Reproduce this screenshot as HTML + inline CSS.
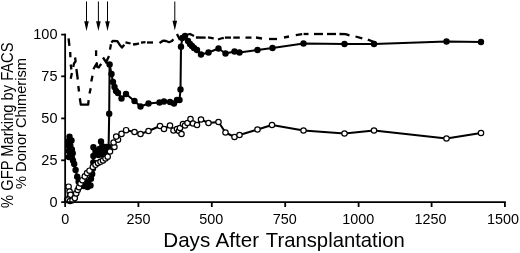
<!DOCTYPE html>
<html><head><meta charset="utf-8"><title>Chart</title>
<style>html,body{margin:0;padding:0;background:#fff}svg{display:block}</style></head>
<body>
<svg width="520" height="253" viewBox="0 0 520 253">
<rect width="520" height="253" fill="#fff"/>
<path d="M86.5 1.5V23" stroke="#000" stroke-width="1"/>
<path d="M84.2 21.2L88.8 21.2L86.5 31Z" fill="#000"/>
<path d="M98.4 1.5V23" stroke="#000" stroke-width="1"/>
<path d="M96.10000000000001 21.2L100.7 21.2L98.4 31Z" fill="#000"/>
<path d="M107.5 1.5V23" stroke="#000" stroke-width="1"/>
<path d="M105.2 21.2L109.8 21.2L107.5 31Z" fill="#000"/>
<path d="M174.8 1.5V22.6" stroke="#000" stroke-width="1"/>
<path d="M172.5 20.8L177.10000000000002 20.8L174.8 30.6Z" fill="#000"/>
<g stroke="#000" stroke-width="2.3" fill="none" stroke-linejoin="round">
<polyline points="68.6,38.3 69.4,45.8"/>
<polyline points="70.2,52 70.4,57.3"/>
<polyline points="75.1,57.5 75.6,61.3 74,63.5 73.2,67"/>
<polyline points="70.7,64.5 71.4,69.5"/>
<polyline points="71.9,73 70.7,78.7"/>
<polyline points="76.4,69 77.8,79.5"/>
<polyline points="78.3,86 79,91.5"/>
<polyline points="79.8,98.2 80.8,104.6 88.2,104.6 88.6,100.2"/>
<polyline points="89.5,93.6 90.7,88.2"/>
<polyline points="91.3,81.5 92.5,75.8"/>
<polyline points="93.4,69.3 95.2,66 96.8,63.2 97.2,66.8 98.8,67.4 100,65.5 101.2,63.8"/>
<polyline points="96.1,50.3 96.1,56"/>
<polyline points="103,57.5 107,63.5"/>
<polyline points="109,56 106,62.5"/>
<polyline points="110,49.6 111,44.3"/>
<polyline points="111.3,42.5 112.9,40.9 117.3,41.1 119.8,44.9 122,47.5 124.3,44.7"/>
<polyline points="125.5,42.4 130.6,43.5"/>
<polyline points="133,44.5 137,44 139,43.3"/>
<polyline points="141,42.6 145.5,42.2"/>
<polyline points="147,42.5 153,42.5"/>
<polyline points="159.5,43 163,40.7 166,41 169,42.2 172,41 173.3,39.3"/>
<polyline points="177,34 180,40"/>
<polyline points="186,35 190,34 194,36"/>
<polyline points="195.9,37.5 205.7,37.6"/>
<polyline points="208,37.4 213.7,38.3"/>
<polyline points="218,39.5 221,38.5 223.8,37.8"/>
<polyline points="224.9,37.6 231,37.6"/>
<polyline points="233.3,37.6 239.8,37.6"/>
<polyline points="245.5,37.6 251.5,37.6"/>
<polyline points="256,37.5 262,38.5"/>
<polyline points="269,39 277,39"/>
<polyline points="284,37.5 289,36.5"/>
<polyline points="295.8,35.2 302.2,34.2"/>
<polyline points="303.6,34 308.5,34"/>
<polyline points="314,34 323,34"/>
<polyline points="327,34 336,34"/>
<polyline points="339.5,34 345.5,34.2 349.5,35.3"/>
<polyline points="355.5,36.5 362.3,38.3"/>
<polyline points="367.8,39.6 373.5,41.8 376,43"/>
</g>
<polyline points="68.2,145.5 68.3,141.5 69.5,136.8 71.5,140.5 70.3,145.5 68.7,151 71.9,149.5 72.7,153.3 68.9,157 71.7,157.3 73,160.5 74.2,164 75.6,170 77.2,176.8 78.6,181.8 80.5,185.3 84,186 87.5,187 90.5,185.5 88,182 91,178.8 92.2,174 93,168.5 93.3,162.5 93.4,156 93.4,147.3 96.5,151 98.5,155 99.5,149 101,141.5 102.8,146.5 101.5,152 104,155.5 105,150.5 106.5,147 107.5,151.5 108.6,147 109.2,113.8 109.6,64.5 111.5,74 113,82 114.5,87 116,91 118,93 121.5,98.5 126,94 134.5,101 140.5,106.5 148.5,103.5 159.5,102.5 164,101.5 170,102 174,103.5 177,100 179.5,100 180.5,89.5 181,46.8 182.3,38 185,36 188,41 190,44 192,46 194,48 197,50 201,54.5 208.5,52.5 218.5,48.5 225.5,53.5 234.5,51.5 239.5,52.5 257.5,50 272.5,48 303.5,43.5 344.5,44 374,44 446.5,41.5 481,42" fill="none" stroke="#000" stroke-width="2.05" stroke-linejoin="round"/>
<g fill="#000">
<circle cx="68.2" cy="145.5" r="3.2"/>
<circle cx="68.3" cy="141.5" r="3.2"/>
<circle cx="69.5" cy="136.8" r="3.2"/>
<circle cx="71.5" cy="140.5" r="3.2"/>
<circle cx="70.3" cy="145.5" r="3.2"/>
<circle cx="68.7" cy="151" r="3.2"/>
<circle cx="71.9" cy="149.5" r="3.2"/>
<circle cx="72.7" cy="153.3" r="3.2"/>
<circle cx="68.9" cy="157" r="3.2"/>
<circle cx="71.7" cy="157.3" r="3.2"/>
<circle cx="73" cy="160.5" r="3.2"/>
<circle cx="74.2" cy="164" r="3.2"/>
<circle cx="75.6" cy="170" r="3.2"/>
<circle cx="77.2" cy="176.8" r="3.2"/>
<circle cx="78.6" cy="181.8" r="3.2"/>
<circle cx="80.5" cy="185.3" r="3.2"/>
<circle cx="84" cy="186" r="3.2"/>
<circle cx="87.5" cy="187" r="3.2"/>
<circle cx="90.5" cy="185.5" r="3.2"/>
<circle cx="88" cy="182" r="3.2"/>
<circle cx="91" cy="178.8" r="3.2"/>
<circle cx="92.2" cy="174" r="3.2"/>
<circle cx="93" cy="168.5" r="3.2"/>
<circle cx="93.3" cy="162.5" r="3.2"/>
<circle cx="93.4" cy="156" r="3.2"/>
<circle cx="93.4" cy="147.3" r="3.2"/>
<circle cx="96.5" cy="151" r="3.2"/>
<circle cx="98.5" cy="155" r="3.2"/>
<circle cx="99.5" cy="149" r="3.2"/>
<circle cx="101" cy="141.5" r="3.2"/>
<circle cx="102.8" cy="146.5" r="3.2"/>
<circle cx="101.5" cy="152" r="3.2"/>
<circle cx="104" cy="155.5" r="3.2"/>
<circle cx="105" cy="150.5" r="3.2"/>
<circle cx="106.5" cy="147" r="3.2"/>
<circle cx="107.5" cy="151.5" r="3.2"/>
<circle cx="108.6" cy="147" r="3.2"/>
<circle cx="109.2" cy="113.8" r="3.2"/>
<circle cx="109.6" cy="64.5" r="3.2"/>
<circle cx="111.5" cy="74" r="3.2"/>
<circle cx="113" cy="82" r="3.2"/>
<circle cx="114.5" cy="87" r="3.2"/>
<circle cx="116" cy="91" r="3.2"/>
<circle cx="118" cy="93" r="3.2"/>
<circle cx="121.5" cy="98.5" r="3.2"/>
<circle cx="126" cy="94" r="3.2"/>
<circle cx="134.5" cy="101" r="3.2"/>
<circle cx="140.5" cy="106.5" r="3.2"/>
<circle cx="148.5" cy="103.5" r="3.2"/>
<circle cx="159.5" cy="102.5" r="3.2"/>
<circle cx="164" cy="101.5" r="3.2"/>
<circle cx="170" cy="102" r="3.2"/>
<circle cx="174" cy="103.5" r="3.2"/>
<circle cx="177" cy="100" r="3.2"/>
<circle cx="179.5" cy="100" r="3.2"/>
<circle cx="180.5" cy="89.5" r="3.2"/>
<circle cx="181" cy="46.8" r="3.2"/>
<circle cx="182.3" cy="38" r="3.2"/>
<circle cx="185" cy="36" r="3.2"/>
<circle cx="188" cy="41" r="3.2"/>
<circle cx="190" cy="44" r="3.2"/>
<circle cx="192" cy="46" r="3.2"/>
<circle cx="194" cy="48" r="3.2"/>
<circle cx="197" cy="50" r="3.2"/>
<circle cx="201" cy="54.5" r="3.2"/>
<circle cx="208.5" cy="52.5" r="3.2"/>
<circle cx="218.5" cy="48.5" r="3.2"/>
<circle cx="225.5" cy="53.5" r="3.2"/>
<circle cx="234.5" cy="51.5" r="3.2"/>
<circle cx="239.5" cy="52.5" r="3.2"/>
<circle cx="257.5" cy="50" r="3.2"/>
<circle cx="272.5" cy="48" r="3.2"/>
<circle cx="303.5" cy="43.5" r="3.2"/>
<circle cx="344.5" cy="44" r="3.2"/>
<circle cx="374" cy="44" r="3.2"/>
<circle cx="446.5" cy="41.5" r="3.2"/>
<circle cx="481" cy="42" r="3.2"/>
</g>
<polyline points="67.2,200 68.6,186.7 69.6,191.5 70.5,194.8 68.2,199.5 70,201 72.5,200.3 74.8,198.1 76.2,193.4 77.7,190 79,187.2 80.5,183.5 82.4,180.2 84.8,176.4 87.1,173.1 89.5,170.7 92.8,167 95.5,164.8 98,163 100.5,161.8 103,160.5 105.5,158.5 107.7,156.7 110,151.5 114.4,147 113.6,142.5 118,139.7 116.2,136.6 121.5,133.9 126.1,130.2 134.5,132 140.5,134 148.5,131 160,126 164,129 170,125.5 173.5,130.5 177,129 179,131 181.5,134 180,128 183,124 185,125.5 187.5,123 190.5,119 193,123.5 197,125 201,119.5 208.5,123 218.5,122 225.5,132.5 234.5,137 239.5,135 257.5,129.5 272,125 303.5,130.5 344.5,133.5 374,130.5 446.5,138.5 481,133" fill="none" stroke="#000" stroke-width="2.05" stroke-linejoin="round"/>
<g fill="#fff" stroke="#000" stroke-width="1.2">
<circle cx="67.2" cy="200" r="2.7"/>
<circle cx="68.6" cy="186.7" r="2.7"/>
<circle cx="69.6" cy="191.5" r="2.7"/>
<circle cx="70.5" cy="194.8" r="2.7"/>
<circle cx="68.2" cy="199.5" r="2.7"/>
<circle cx="70" cy="201" r="2.7"/>
<circle cx="72.5" cy="200.3" r="2.7"/>
<circle cx="74.8" cy="198.1" r="2.7"/>
<circle cx="76.2" cy="193.4" r="2.7"/>
<circle cx="77.7" cy="190" r="2.7"/>
<circle cx="79" cy="187.2" r="2.7"/>
<circle cx="80.5" cy="183.5" r="2.7"/>
<circle cx="82.4" cy="180.2" r="2.7"/>
<circle cx="84.8" cy="176.4" r="2.7"/>
<circle cx="87.1" cy="173.1" r="2.7"/>
<circle cx="89.5" cy="170.7" r="2.7"/>
<circle cx="92.8" cy="167" r="2.7"/>
<circle cx="95.5" cy="164.8" r="2.7"/>
<circle cx="98" cy="163" r="2.7"/>
<circle cx="100.5" cy="161.8" r="2.7"/>
<circle cx="103" cy="160.5" r="2.7"/>
<circle cx="105.5" cy="158.5" r="2.7"/>
<circle cx="107.7" cy="156.7" r="2.7"/>
<circle cx="110" cy="151.5" r="2.7"/>
<circle cx="114.4" cy="147" r="2.7"/>
<circle cx="113.6" cy="142.5" r="2.7"/>
<circle cx="118" cy="139.7" r="2.7"/>
<circle cx="116.2" cy="136.6" r="2.7"/>
<circle cx="121.5" cy="133.9" r="2.7"/>
<circle cx="126.1" cy="130.2" r="2.7"/>
<circle cx="134.5" cy="132" r="2.7"/>
<circle cx="140.5" cy="134" r="2.7"/>
<circle cx="148.5" cy="131" r="2.7"/>
<circle cx="160" cy="126" r="2.7"/>
<circle cx="164" cy="129" r="2.7"/>
<circle cx="170" cy="125.5" r="2.7"/>
<circle cx="173.5" cy="130.5" r="2.7"/>
<circle cx="177" cy="129" r="2.7"/>
<circle cx="179" cy="131" r="2.7"/>
<circle cx="181.5" cy="134" r="2.7"/>
<circle cx="180" cy="128" r="2.7"/>
<circle cx="183" cy="124" r="2.7"/>
<circle cx="185" cy="125.5" r="2.7"/>
<circle cx="187.5" cy="123" r="2.7"/>
<circle cx="190.5" cy="119" r="2.7"/>
<circle cx="193" cy="123.5" r="2.7"/>
<circle cx="197" cy="125" r="2.7"/>
<circle cx="201" cy="119.5" r="2.7"/>
<circle cx="208.5" cy="123" r="2.7"/>
<circle cx="218.5" cy="122" r="2.7"/>
<circle cx="225.5" cy="132.5" r="2.7"/>
<circle cx="234.5" cy="137" r="2.7"/>
<circle cx="239.5" cy="135" r="2.7"/>
<circle cx="257.5" cy="129.5" r="2.7"/>
<circle cx="272" cy="125" r="2.7"/>
<circle cx="303.5" cy="130.5" r="2.7"/>
<circle cx="344.5" cy="133.5" r="2.7"/>
<circle cx="374" cy="130.5" r="2.7"/>
<circle cx="446.5" cy="138.5" r="2.7"/>
<circle cx="481" cy="133" r="2.7"/>
</g>
<g stroke="#000" stroke-width="1.8" fill="none" stroke-linecap="butt">
<path d="M65.15 33.7V207"/>
<path d="M61.2 202.1H505.8"/>
<path d="M61.2 34.6H65.5"/>
<path d="M61.2 76.3H65.5"/>
<path d="M61.2 118.4H65.5"/>
<path d="M61.2 160.3H65.5"/>
<path d="M138.4 202V207"/>
<path d="M211.8 202V207"/>
<path d="M285.2 202V207"/>
<path d="M358.6 202V207"/>
<path d="M431.6 202V207"/>
<path d="M504.9 202V207"/>
</g>
<g font-family="'Liberation Sans', Arial, sans-serif" fill="#000">
<g font-size="14.5" text-anchor="end">
<text x="57.5" y="39.3">100</text>
<text x="57.5" y="81.3">75</text>
<text x="57.5" y="123.4">50</text>
<text x="57.5" y="165.3">25</text>
<text x="57.5" y="207.3">0</text>
</g>
<g font-size="14.4" text-anchor="middle">
<text transform="translate(65.2 224) scale(1 1.07)">0</text>
<text transform="translate(138.4 224) scale(1 1.07)">250</text>
<text transform="translate(211.3 224) scale(1 1.07)">500</text>
<text transform="translate(284.8 224) scale(1 1.07)">750</text>
<text transform="translate(358.2 224) scale(1 1.07)">1000</text>
<text transform="translate(430.6 224) scale(1 1.07)">1250</text>
<text transform="translate(503 224) scale(1 1.07)">1500</text>
</g>
<text y="247.1" font-size="20.6"><tspan x="163.3">Days</tspan> <tspan x="215.5">After</tspan> <tspan x="265.8" textLength="139.0" lengthAdjust="spacingAndGlyphs">Transplantation</tspan></text>
<text transform="translate(12.5 207.9) rotate(-90) scale(1 1.13)" font-size="14.5" textLength="165.4" lengthAdjust="spacingAndGlyphs">% GFP Marking by FACS</text>
<text transform="translate(26.3 189) rotate(-90)" font-size="14.5" textLength="131" lengthAdjust="spacingAndGlyphs">% Donor Chimerism</text>
</g>
</svg>
</body></html>
